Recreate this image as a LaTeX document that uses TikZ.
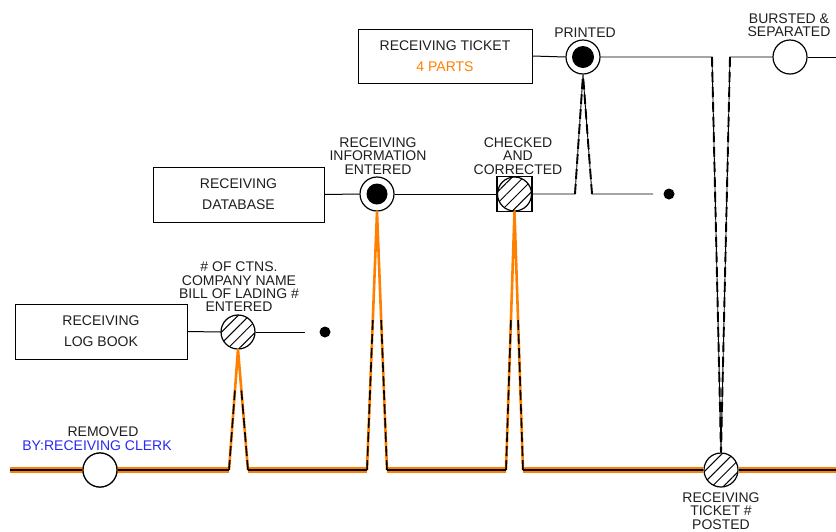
\documentclass[tikz,border=0pt]{standalone}
\usepackage{fontspec}
\setmainfont{Liberation Sans}
\usetikzlibrary{patterns.meta,calc}
\definecolor{orng}{RGB}{255,128,0}
\definecolor{blu}{RGB}{40,40,245}
\definecolor{txt}{RGB}{30,30,30}
\begin{document}
\begin{tikzpicture}[x=1pt,y=-1pt,
  lbl/.style={font=\fontsize{14}{13.4}\selectfont, align=center, inner sep=0, text=txt},
  box/.style={draw, line width=1pt, align=center, inner sep=0, text=txt,
              font=\fontsize{14}{21}\selectfont},
  conn/.style={line width=1pt},
  mainor/.style={orng, line width=6pt},
  mainbk/.style={black, line width=2.8pt},
  spikeor/.style={orng, line width=2.6pt, line join=round},
  spikebk/.style={black, line width=1.6pt, dash pattern=on 10pt off 4pt},
  thinbk/.style={black, line width=0.9pt},
  dashov/.style={black, line width=1.9pt, dash pattern=on 10pt off 5pt},
  dot/.style={circle, fill=black, minimum size=11pt, inner sep=0},
  ring/.style={circle, draw, line width=1.2pt, fill=white, minimum size=34pt, inner sep=0},
  hatch/.style={circle, draw, line width=1.2pt, minimum size=34pt, inner sep=0,
                preaction={fill=white},
                pattern={Lines[angle=45,distance=8pt,line width=1pt]}},
  sq/.style={draw, line width=1.2pt, fill=white, minimum size=35pt, inner sep=0}
]
\useasboundingbox (0,0) rectangle (836,531);

% boxes
\node[box, minimum width=172pt, minimum height=55pt] (log) at (101,331.5) {RECEIVING\\LOG BOOK};
\node[box, minimum width=171pt, minimum height=55pt] (db) at (238.5,194.5) {RECEIVING\\DATABASE};
\node[box, minimum width=174pt, minimum height=54pt] (tkt) at (445,56) {RECEIVING TICKET\\\textcolor{orng}{4 PARTS}};

% event symbols
\node[ring] (rem) at (100,470) {};
\node[hatch] (bol) at (238,332) {};
\node[ring] (rie) at (377,194) {};
\fill (rie.center) circle (10.5pt);
\node[sq] (cacs) at (514.5,194) {};
\node[hatch] (cac) at (514.5,194) {};
\node[ring] (prt) at (583,57) {};
\fill (prt.center) circle (11pt);
\node[ring] (bst) at (790,57) {};
\node[hatch] (rtp) at (721,470) {};
\node[dot] (d1) at (325,332) {};
\node[dot] (d2) at (669,194) {};

% labels
\node[lbl] (lrem) at (103,432) {REMOVED};
\node[lbl, text=blu] (lby) at (97,446) {BY:RECEIVING CLERK};
\node[lbl] (lbol) at (239,287) {\# OF CTNS.\\COMPANY NAME\\BILL OF LADING \#\\ENTERED};
\node[lbl] (lrie) at (378,156) {RECEIVING\\INFORMATION\\ENTERED};
\node[lbl] (lcac) at (518,156) {CHECKED\\AND\\CORRECTED};
\node[lbl] (lprt) at (585,33) {PRINTED};
\node[lbl] (lbst) at (789,25) {BURSTED \&\\SEPARATED};
\node[lbl] (lrtp) at (721,511) {RECEIVING\\TICKET \#\\POSTED};

% coordinates
\coordinate (m0) at (10,470);
\coordinate (m9) at (836,470);
\coordinate (b1l) at (229,470); \coordinate (b1r) at (248,470);
\coordinate (b2l) at (367,470); \coordinate (b2r) at (387,470);
\coordinate (b3l) at (506,470); \coordinate (b3r) at (523,470);
\coordinate (p1) at (575,194); \coordinate (p2) at (592,194);
\coordinate (p3) at (653,194);
\coordinate (t1) at (712,57); \coordinate (t2) at (730,57);
\coordinate (e9) at (836,57);
\coordinate (l3) at (305,332);

% thin connectors
\draw[conn] (log.east) -- (bol.west);
\draw[conn] (bol.east) -- (l3);
\draw[conn] (db.east) -- (rie.west);
\draw[conn] (rie.east) -- (cacs.west);
\draw[conn] (tkt.east) -- (prt.west);
\draw[thinbk] (cacs.east) -- (p1) -- (prt.south) -- (p2) -- (p3);
\draw[dashov] (p1) -- (prt.south);
\draw[dashov] (p2) -- (prt.south);
\draw[thinbk] (prt.east) -- (t1) -- (rtp.north) -- (t2) -- (bst.west);
\draw[dashov] (t1) -- (rtp.north);
\draw[dashov] (t2) -- (rtp.north);
\draw[conn] (bst.east) -- (e9);

% main time line
\begin{scope}[yshift=-1pt]
\draw[mainor] (m0) -- (b1l);
\draw[mainor] (b1r) -- (b2l);
\draw[mainor] (b2r) -- (b3l);
\draw[mainor] (b3r) -- (rtp.west);
\draw[mainor] (rtp.east) -- (m9);
\end{scope}
\draw[spikeor] (b1l) -- (bol.south) -- (b1r);
\draw[spikeor] (b2l) -- (rie.south) -- (b2r);
\draw[spikeor] (b3l) -- (cac.south) -- (b3r);
\draw[mainbk] (m0) -- (rem.west);
\draw[mainbk] (rem.east) -- (b1l);
\draw[mainbk] (b1r) -- (b2l);
\draw[mainbk] (b2r) -- (b3l);
\draw[mainbk] (b3r) -- (rtp.west);
\draw[mainbk] (rtp.east) -- (m9);
\draw[spikebk] (b1l) -- ($(b1l)!0.66!(bol.south)$);
\draw[spikebk] (b1r) -- ($(b1r)!0.66!(bol.south)$);
\draw[spikebk] (b2l) -- ($(b2l)!0.59!(rie.south)$);
\draw[spikebk] (b2r) -- ($(b2r)!0.59!(rie.south)$);
\draw[spikebk] (b3l) -- ($(b3l)!0.59!(cac.south)$);
\draw[spikebk] (b3r) -- ($(b3r)!0.59!(cac.south)$);

% redraw removed circle on top of line
\node[ring] at (rem.center) {};
\end{tikzpicture}
\end{document}
